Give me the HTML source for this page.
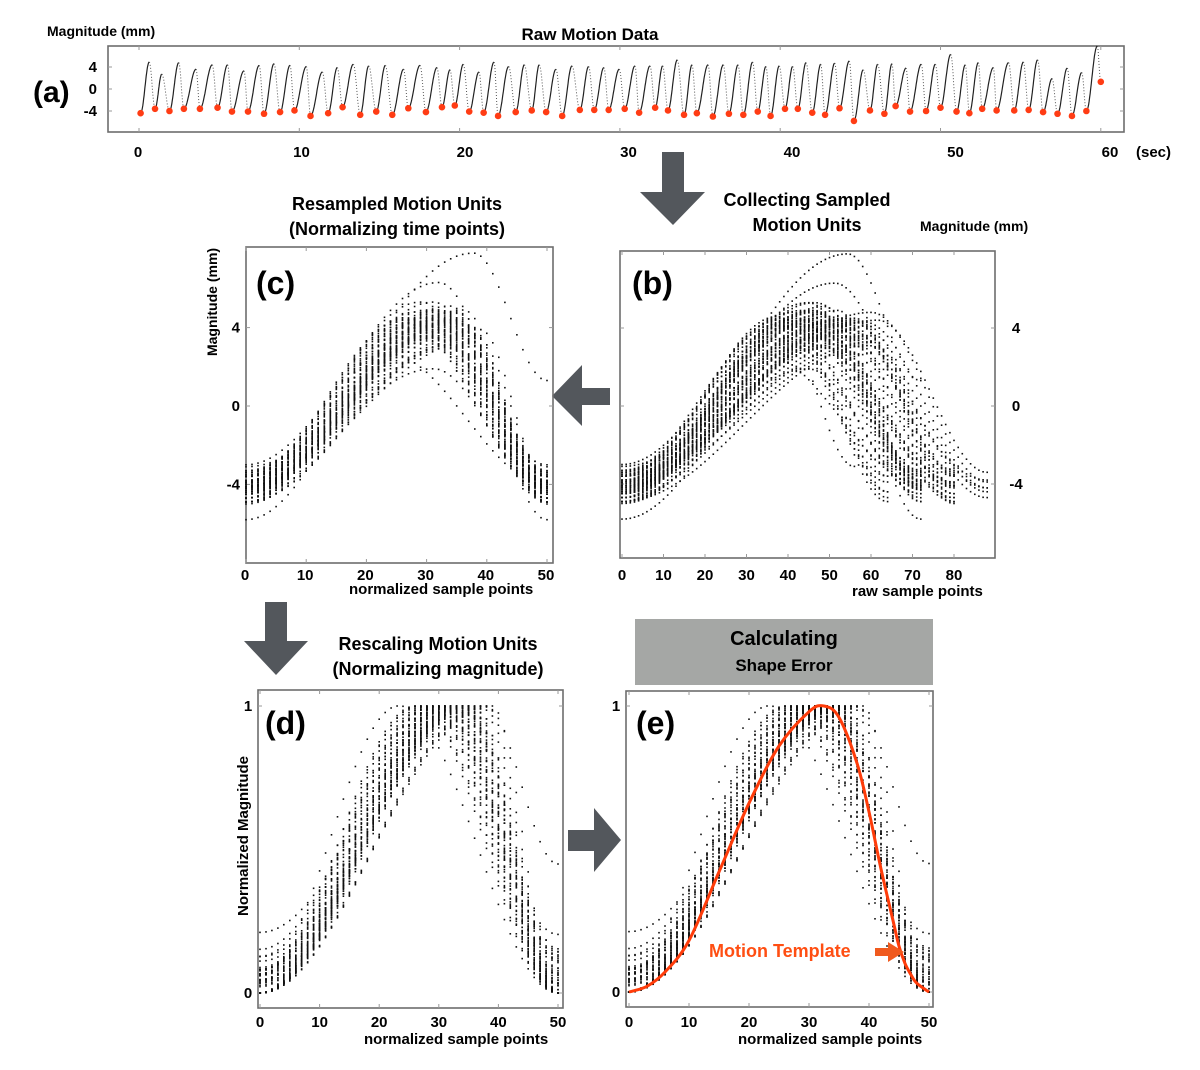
<!DOCTYPE html>
<html><head><meta charset="utf-8">
<style>
html,body{margin:0;padding:0;background:#fff;}
svg{display:block;font-family:"Liberation Sans","NanumGothic",sans-serif;font-weight:bold;}
</style></head>
<body>
<svg id="fig" width="1200" height="1070" viewBox="0 0 1200 1070" xmlns="http://www.w3.org/2000/svg">
  <rect width="1200" height="1070" fill="#fff"/>
  <!-- static text -->
  <text x="47" y="36" font-size="14">Magnitude (mm)</text>
  <text x="590" y="40" font-size="17" text-anchor="middle">Raw Motion Data</text>
  <text x="33" y="102" font-size="30">(a)</text>
  <text x="1136" y="157" font-size="15">(sec)</text>

  <text x="397" y="210" font-size="18" text-anchor="middle">Resampled Motion Units</text>
  <text x="397" y="235" font-size="18" text-anchor="middle">(Normalizing time points)</text>
  <text x="807" y="206" font-size="18" text-anchor="middle">Collecting Sampled</text>
  <text x="807" y="231" font-size="18" text-anchor="middle">Motion Units</text>
  <text x="920" y="231" font-size="14">Magnitude (mm)</text>
  <text transform="translate(217,302) rotate(-90)" font-size="14" text-anchor="middle">Magnitude (mm)</text>

  <text x="438" y="650" font-size="18" text-anchor="middle">Rescaling Motion Units</text>
  <text x="438" y="675" font-size="18" text-anchor="middle">(Normalizing magnitude)</text>
  <rect x="635" y="619" width="298" height="66" fill="#a5a7a5"/>
  <text x="784" y="645" font-size="20" text-anchor="middle">Calculating</text>
  <text x="784" y="671" font-size="17" text-anchor="middle">Shape Error</text>
  <text transform="translate(248,836) rotate(-90)" font-size="15" text-anchor="middle">Normalized Magnitude</text>

  <!-- arrows -->
  <polygon fill="#53575c" points="662,152 684,152 684,192 705,192 673,225 640,192 662,192"/>
  <polygon fill="#53575c" points="610,388 582,388 582,365 552,396 582,426 582,405 610,405"/>
  <polygon fill="#53575c" points="265,602 287,602 287,641 308,641 276,675 244,641 265,641"/>
  <polygon fill="#53575c" points="568,830 594,830 594,808 621,840 594,872 594,851 568,851"/>
  <g id="layer"></g>
</svg>
<script>
// ---- data: per-cycle motion units ----
const troughT = [0.1,1.0,1.9,2.8,3.8,4.9,5.8,6.8,7.8,8.8,9.7,10.7,11.8,12.7,13.8,14.8,15.8,16.8,17.9,18.9,19.7,20.6,21.5,22.4,23.5,24.5,25.4,26.4,27.5,28.4,29.3,30.3,31.2,32.2,33.0,34.0,34.8,35.8,36.8,37.7,38.6,39.4,40.3,41.1,42.0,42.8,43.7,44.6,45.6,46.5,47.2,48.1,49.1,50.0,51.0,51.8,52.6,53.5,54.6,55.5,56.4,57.3,58.2,59.1,60.0];
const troughV = [-4.4,-3.6,-4.0,-3.6,-3.6,-3.4,-4.1,-4.1,-4.5,-4.2,-3.9,-4.9,-4.4,-3.3,-4.7,-4.1,-4.7,-3.5,-4.2,-3.3,-3.0,-4.1,-4.3,-4.9,-4.2,-3.9,-4.2,-4.9,-3.8,-3.8,-3.8,-3.6,-4.3,-3.4,-3.9,-4.7,-4.4,-5.0,-4.5,-4.7,-4.1,-4.9,-3.6,-3.6,-4.3,-4.7,-3.5,-5.8,-3.9,-4.5,-3.1,-4.1,-4.0,-3.4,-4.1,-4.4,-3.6,-3.9,-3.9,-3.8,-4.2,-4.5,-4.9,-4.0,1.3];
const peakT = [0.64,1.42,2.48,3.56,4.57,5.53,6.55,7.5,8.42,9.42,10.44,11.44,12.37,13.37,14.33,15.37,16.51,17.53,18.59,19.4,20.23,21.21,22.15,23.06,24.04,24.97,26.01,27.01,28.05,29.0,29.96,30.94,31.88,32.67,33.58,34.5,35.5,36.45,37.37,38.28,39.11,39.94,40.78,41.61,42.53,43.4,44.31,45.18,46.08,46.97,47.85,48.8,49.68,50.64,51.55,52.36,53.3,54.25,55.17,56.06,56.96,57.91,58.81,59.78];
const peakV = [4.9,2.7,4.8,3.6,4.4,4.4,3.3,4.3,4.6,4.3,4.1,3.1,3.9,4.5,4.2,4.3,3.6,4.3,3.9,3.5,4.5,3.1,4.9,4.1,4.4,4.4,3.6,4.2,4.1,3.9,3.6,4.2,4.2,4.2,5.3,4.4,4.4,4.4,4.4,4.9,4.1,4.2,4.1,4.8,4.5,4.7,5.1,3.5,4.5,4.6,3.8,4.5,4.5,6.3,4.4,4.8,3.9,4.8,4.9,5.3,1.9,3.8,3.0,7.8];
// motion template (panel e)
const templateX = [0,3,6,10,15,20,25,30,32.5,35,38,40,42,44,45,46,47,48,50];
const templateY = [0,0.02,0.07,0.18,0.42,0.66,0.86,0.98,1,0.96,0.8,0.63,0.43,0.25,0.16,0.1,0.06,0.03,0];
// tick labels
const ticksA = [0,10,20,30,40,50,60];
const ticksAY = [4,0,-4];
const ticksB = [0,10,20,30,40,50,60,70,80];
const ticksMag = [4,0,-4];
const ticksN = [0,10,20,30,40,50];
const ticksNorm = [1,0];
const sampleRate = 80;
const nResample = 50;

const NS = "http://www.w3.org/2000/svg";
const layer = document.getElementById('layer');
function mk(tag, attrs, parent){
  const e = document.createElementNS(NS, tag);
  for (const k in attrs) e.setAttribute(k, attrs[k]);
  (parent||layer).appendChild(e);
  return e;
}
function shape(i, u){
  const t0 = troughT[i], t1 = troughT[i+1];
  const p = (peakT[i]-t0)/(t1-t0);
  if (u <= p) return troughV[i] + (peakV[i]-troughV[i])*(1-Math.cos(Math.PI*u/p))/2;
  return peakV[i] + (troughV[i+1]-peakV[i])*(1-Math.cos(Math.PI*(u-p)/(1-p)))/2;
}
const nCycles = peakV.length;

// ---------- generic frame ----------
function frame(name, x0,y0,x1,y1, xs, xt, ys, yt){
  const g = mk('g',{});
  
  
  const r = mk('rect',{x:x0,y:y0,width:x1-x0,height:y1-y0,fill:'none',stroke:'#6d6d6d','stroke-width':1.6},g);
  
  
  xt.forEach(v=>{
    const X = xs(v);
    const t1 = mk('line',{x1:X,y1:y1,x2:X,y2:y1-4,stroke:'#999','stroke-width':1},g);
    
    
    const t2 = mk('line',{x1:X,y1:y0,x2:X,y2:y0+4,stroke:'#999','stroke-width':1},g);
    
    
  });
  yt.forEach(v=>{
    const Y = ys(v);
    const t1 = mk('line',{x1:x0,y1:Y,x2:x0+4,y2:Y,stroke:'#999','stroke-width':1},g);
    
    
    const t2 = mk('line',{x1:x1,y1:Y,x2:x1-4,y2:Y,stroke:'#999','stroke-width':1},g);
    
    
  });
  return g;
}
function xLabels(ticks, fn, y, size){
  ticks.forEach(v=>{
    const t = mk('text',{x:fn(v),y:y,'font-size':size,'text-anchor':'middle'});
    t.textContent = v;
    
    
  });
}
function yLabels(ticks, fn, x, anchor, size){
  ticks.forEach(v=>{
    const t = mk('text',{x:x,y:fn(v)+5,'font-size':size,'text-anchor':anchor});
    t.textContent = v;
    
    
  });
}
function dot(g, x, y, r){
  const c = mk('rect',{x:(x-r).toFixed(1),y:(y-r).toFixed(1),width:2*r,height:2*r,fill:'#111'},g);
  
  
}

// ---------- panel (a) ----------
const axT = t => 139 + t*16.03;
const ayV = v => 89 - v*5.5;
frame('panel-a', 108,46,1124,132, axT, ticksA, ayV, ticksAY);
xLabels(ticksA.slice(0,6), v=>138+v*16.35, 157, 15);
xLabels([60], v=>1110, 157, 15);
yLabels(ticksAY, ayV, 97, 'end', 15);
const ga = mk('g',{});


for (let i=0;i<nCycles;i++){
  const t0=troughT[i], t1=troughT[i+1], tp=peakT[i];
  const p=(tp-t0)/(t1-t0);
  let up='', down='';
  for (let k=0;k<=20;k++){
    const u=p*k/20;
    up += (k?'L':'M')+axT(t0+u*(t1-t0)).toFixed(1)+','+ayV(shape(i,u)).toFixed(1);
  }
  for (let k=0;k<=12;k++){
    const u=p+(1-p)*k/12;
    down += (k?'L':'M')+axT(t0+u*(t1-t0)).toFixed(1)+','+ayV(shape(i,u)).toFixed(1);
  }
  const a = mk('path',{d:up,fill:'none',stroke:'#222','stroke-width':1.2},ga);
  
  
  const b = mk('path',{d:down,fill:'none',stroke:'#555','stroke-width':1,'stroke-dasharray':'1 2'},ga);
  
  
}
for (let i=0;i<troughT.length;i++){
  const c = mk('circle',{cx:axT(troughT[i]),cy:ayV(troughV[i]),r:3.3,fill:'#ff3c14'},ga);
  
  
}

// ---------- panel (b) ----------
const bx = s => 622 + s*4.15;
const by = v => 406 - v*19.5;
frame('panel-b', 620,251,995,558, bx, ticksB, by, ticksMag);
xLabels(ticksB, bx, 580, 15);
yLabels(ticksMag, by, 1016, 'middle', 15);
{const t=mk('text',{x:852,y:596,'font-size':15});t.textContent='raw sample points';

}
{const t=mk('text',{x:632,y:294,'font-size':32});t.textContent='(b)';

}
const gb = mk('g',{});


for (let i=0;i<nCycles;i++){
  const n = Math.round((troughT[i+1]-troughT[i])*sampleRate);
  for (let s=0;s<=n;s++){
    const y = by(shape(i, s/n));
    if (y>252 && y<556) dot(gb, bx(s), y, 0.8);
  }
}

// ---------- panel (c) ----------
const cx = n => 246 + n*6.02;
const cy = v => 406 - v*19.6;
frame('panel-c', 246,247,553,563, cx, ticksN, cy, ticksMag);
xLabels(ticksN, v=>cx(v)-1, 580, 15);
yLabels(ticksMag, cy, 240, 'end', 15);
{const t=mk('text',{x:349,y:594,'font-size':15});t.textContent='normalized sample  points';

}
{const t=mk('text',{x:256,y:294,'font-size':32});t.textContent='(c)';

}
const gc = mk('g',{});


for (let i=0;i<nCycles;i++){
  for (let k=0;k<=nResample;k++){
    const y = cy(shape(i,k/nResample));
    if (y>248 && y<562) dot(gc, cx(k), y, 0.8);
  }
}

// ---------- panel (d) & (e) ----------
function normPanel(name, x0,y0,x1,y1, xs, ys, labX){
  frame(name, x0,y0,x1,y1, xs, ticksN, ys, ticksNorm);
  xLabels(ticksN, xs, 1027, 15);
  yLabels(ticksNorm, ys, labX, 'middle', 15);
  const g = mk('g',{});
  
  
  for (let i=0;i<nCycles;i++){
    const vals=[];
    for (let k=0;k<=nResample;k++) vals.push(shape(i,k/nResample));
    const mn=Math.min(...vals), mx=Math.max(...vals);
    vals.forEach((v,k)=>dot(g, xs(k), ys((v-mn)/(mx-mn)), 0.8));
  }
}
const dx = n => 260 + n*5.96;
const dy = v => 993 - v*287;
normPanel('panel-d', 258,690,563,1008, dx, dy, 248);
{const t=mk('text',{x:364,y:1044,'font-size':15});t.textContent='normalized sample  points';

}
{const t=mk('text',{x:265,y:734,'font-size':32});t.textContent='(d)';

}

const ex = n => 629 + n*6.0;
const ey = v => 992 - v*286;
normPanel('panel-e', 626,691,933,1007, ex, ey, 616);
{const t=mk('text',{x:738,y:1044,'font-size':15});t.textContent='normalized sample  points';

}
{const t=mk('text',{x:636,y:734,'font-size':32});t.textContent='(e)';

}
// template curve (Catmull-Rom through points)
let d = 'M'+ex(templateX[0])+','+ey(templateY[0]);
for (let i=0;i<templateX.length-1;i++){
  const P=j=>[ex(templateX[Math.max(0,Math.min(templateX.length-1,j))]), ey(templateY[Math.max(0,Math.min(templateX.length-1,j))])];
  const p0=P(i-1),p1=P(i),p2=P(i+1),p3=P(i+2);
  const c1=[p1[0]+(p2[0]-p0[0])/6, p1[1]+(p2[1]-p0[1])/6];
  const c2=[p2[0]-(p3[0]-p1[0])/6, p2[1]-(p3[1]-p1[1])/6];
  d += 'C'+c1.map(v=>v.toFixed(1)).join(',')+' '+c2.map(v=>v.toFixed(1)).join(',')+' '+p2.map(v=>v.toFixed(1)).join(',');
}
const tpl = mk('path',{d:d,fill:'none',stroke:'#ff3c0a','stroke-width':3});


{const t=mk('text',{x:709,y:957,'font-size':18,fill:'#ff4e12'});t.textContent='Motion Template';

}
{const a=mk('polygon',{points:'875,948 888,948 888,942 904,952 888,962 888,956 875,956',fill:'#f05a1e'});

}
</script>
</body></html>
